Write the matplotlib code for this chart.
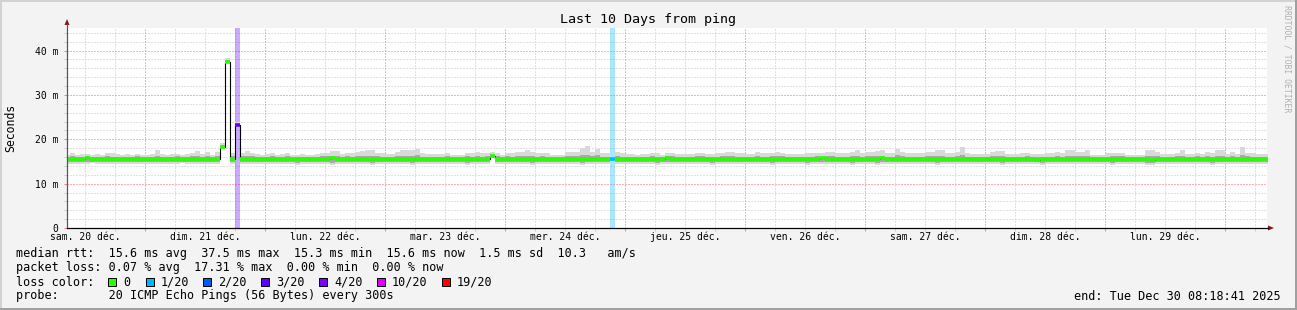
import numpy as np
import matplotlib
matplotlib.use("Agg")
import matplotlib.pyplot as plt
from matplotlib.patches import Rectangle, Polygon
from matplotlib.ticker import FixedLocator, FuncFormatter, NullFormatter

W, H = 1297, 310
plt.rcParams['font.family'] = ['DejaVu Sans Mono', 'DejaVu Sans']

# x = hours since sam. 20 dec 00:00, one rrd row per hour (h = 8 .. 248)
first_hour = 8
view_start, view_end = 8.31, 248.31

# median rtt (ms)
median = [
    15.6, 15.6, 15.5, 15.6, 15.7, 15.6, 15.6, 15.5, 15.5, 15.6, 15.6, 15.6, 15.5, 15.6, 15.6, 15.6,
    15.6, 15.6, 15.5, 15.6, 15.6, 15.5, 15.6, 15.6, 15.6, 15.6, 15.5, 15.6, 15.6, 15.6, 15.6, 18.3, 37.5, 15.5, 23.2, 15.6, 15.6, 15.6, 15.6, 15.5,
    15.6, 15.6, 15.6, 15.5, 15.6, 15.6, 15.6, 15.6, 15.6, 15.5, 15.6, 15.6, 15.6, 15.7, 15.6, 15.6, 15.6, 15.6, 15.5, 15.6, 15.6, 15.6, 15.6, 15.6,
    15.6, 15.6, 15.6, 15.5, 15.6, 15.6, 15.6, 15.6, 15.6, 15.6, 15.6, 15.5, 15.6, 15.6, 15.6, 15.6, 15.6, 15.6, 15.6, 15.6, 15.6, 16.3, 15.6, 15.6,
    15.6, 15.6, 15.6, 15.6, 15.5, 15.6, 15.6, 15.6, 15.6, 15.6, 15.5, 15.6, 15.6, 15.6, 15.6, 15.6, 15.6, 15.6, 15.6, 15.6, 15.6, 15.6, 15.6, 15.6,
    15.6, 15.6, 15.6, 15.5, 15.6, 15.6, 15.6, 15.6, 15.7, 15.6, 15.6, 15.6, 15.5, 15.6, 15.6, 15.6, 15.6, 15.6, 15.6, 15.5, 15.6, 15.6, 15.6, 15.6,
    15.6, 15.6, 15.5, 15.6, 15.6, 15.6, 15.6, 15.6, 15.6, 15.5, 15.6, 15.6, 15.6, 15.6, 15.6, 15.7, 15.6, 15.6, 15.6, 15.6, 15.5, 15.6, 15.6, 15.6,
    15.6, 15.6, 15.6, 15.7, 15.6, 15.6, 15.6, 15.5, 15.6, 15.6, 15.6, 15.6, 15.6, 15.6, 15.6, 15.5, 15.6, 15.6, 15.6, 15.6, 15.6, 15.6, 15.5, 15.6,
    15.6, 15.6, 15.6, 15.6, 15.5, 15.6, 15.6, 15.6, 15.6, 15.6, 15.3, 15.6, 15.6, 15.6, 15.6, 15.6, 15.6, 15.5, 15.6, 15.6, 15.6, 15.6, 15.6, 15.6,
    15.6, 15.6, 15.5, 15.6, 15.6, 15.6, 15.6, 15.6, 15.5, 15.4, 15.6, 15.6, 15.6, 15.6, 15.6, 15.6, 15.6, 15.5, 15.6, 15.6, 15.6, 15.5, 15.6, 15.6,
    15.6, 15.6, 15.6, 15.6, 15.6, 15.6, 15.6, 15.6, 15.6,
]

# smoke: slowest ping per hour
smoke_top = [
    16.5, 16.9, 16.4, 16.7, 16.6, 16.4, 16.7, 16.5, 16.9, 16.8, 16.6, 16.4, 16.6, 16.5, 16.7, 16.4,
    16.5, 16.6, 17.6, 16.6, 16.4, 16.7, 16.7, 16.5, 16.6, 16.9, 17.4, 16.6, 17.1, 16.4, 17.1, 19.2, 38.3, 17.0, 24.0, 17.0, 17.4, 16.9, 16.7, 16.5,
    16.6, 16.8, 16.5, 16.6, 16.9, 16.5, 16.4, 16.6, 16.5, 16.4, 16.6, 17.0, 17.0, 17.4, 17.4, 16.7, 16.9, 16.8, 17.2, 17.3, 17.6, 17.5, 17.0, 16.9,
    16.6, 16.6, 17.2, 17.5, 17.5, 17.5, 17.8, 16.8, 16.6, 16.6, 16.6, 16.6, 16.8, 16.4, 16.4, 16.4, 16.8, 16.8, 17.2, 16.8, 16.9, 17.1, 17.0, 16.4,
    16.8, 16.8, 17.2, 17.2, 17.5, 17.2, 16.8, 16.9, 16.9, 16.4, 16.4, 16.4, 17.2, 17.2, 17.2, 18.0, 18.5, 17.2, 17.9, 16.8, 16.8, 15.9, 17.2, 16.8,
    16.6, 16.6, 16.4, 16.6, 16.6, 16.8, 16.8, 16.4, 17.0, 17.0, 16.6, 16.6, 16.6, 16.6, 17.0, 17.0, 16.6, 16.6, 16.8, 16.8, 17.2, 17.2, 16.8, 16.8,
    16.6, 16.6, 17.2, 16.8, 16.8, 16.8, 17.2, 17.0, 16.6, 16.6, 16.6, 16.6, 16.8, 16.8, 16.8, 16.8, 17.2, 17.2, 16.8, 16.8, 16.8, 17.2, 17.5, 16.8,
    17.2, 17.2, 17.3, 17.5, 16.8, 16.8, 17.8, 17.2, 16.8, 16.8, 16.8, 16.8, 17.2, 17.2, 17.5, 17.5, 16.8, 16.8, 17.2, 18.3, 16.8, 16.6, 16.6, 16.6,
    16.6, 17.2, 17.3, 17.3, 16.6, 16.6, 16.6, 16.8, 16.8, 16.6, 16.6, 16.6, 16.8, 16.8, 17.2, 16.8, 17.5, 17.5, 17.2, 17.2, 17.5, 16.4, 16.4, 16.4,
    16.8, 16.8, 17.0, 17.0, 16.4, 16.4, 16.4, 16.4, 17.5, 17.5, 17.2, 16.6, 16.6, 16.6, 16.8, 17.5, 16.6, 16.6, 17.0, 16.6, 17.2, 16.8, 17.5, 17.5,
    16.6, 17.2, 16.6, 18.3, 16.8, 16.8, 16.6, 16.6, 16.6,
]

# smoke: fastest ping per hour
smoke_bottom = [
    14.5, 14.4, 14.5, 14.5, 14.4, 14.6, 14.5, 14.4, 14.5, 14.5, 14.4, 14.5, 14.5, 14.4, 14.5, 14.5,
    14.5, 14.5, 14.4, 14.5, 14.5, 14.4, 14.5, 14.6, 14.5, 14.4, 14.5, 14.5, 14.4, 14.5, 14.5, 18.0, 37.1, 14.5, 22.8, 14.5, 14.4, 14.5, 14.5, 14.4,
    14.5, 14.4, 14.5, 14.5, 14.5, 14.4, 14.3, 14.5, 14.4, 14.5, 14.5, 14.4, 14.5, 14.3, 14.5, 14.5, 14.4, 14.5, 14.5, 14.5, 14.4, 14.3, 14.5, 14.5,
    14.5, 14.4, 14.5, 14.5, 14.4, 14.3, 14.5, 14.5, 14.5, 14.4, 14.5, 14.5, 14.5, 14.4, 14.5, 14.5, 14.3, 14.5, 14.4, 14.5, 14.5, 15.9, 14.5, 14.4,
    14.5, 14.5, 14.4, 14.5, 14.5, 14.3, 14.5, 14.4, 14.5, 14.5, 14.4, 14.5, 14.5, 14.5, 14.4, 14.3, 14.5, 14.5, 14.4, 14.5, 14.5, 15.3, 14.5, 14.4,
    14.5, 14.4, 14.5, 14.5, 14.4, 14.5, 14.3, 14.5, 14.5, 14.5, 14.4, 14.5, 14.5, 14.4, 14.5, 14.5, 14.5, 14.3, 14.5, 14.4, 14.5, 14.5, 14.5, 14.4,
    14.5, 14.5, 14.4, 14.5, 14.5, 14.3, 14.5, 14.4, 14.5, 14.5, 14.5, 14.4, 14.3, 14.5, 14.5, 14.4, 14.5, 14.5, 14.5, 14.4, 14.5, 14.3, 14.5, 14.5,
    14.4, 14.5, 14.3, 14.5, 14.5, 14.5, 14.4, 14.5, 14.5, 14.4, 14.5, 14.5, 14.5, 14.4, 14.3, 14.5, 14.5, 14.4, 14.5, 14.5, 14.5, 14.4, 14.5, 14.5,
    14.5, 14.4, 14.5, 14.3, 14.5, 14.5, 14.5, 14.4, 14.5, 14.5, 14.4, 14.3, 14.5, 14.5, 14.5, 14.4, 14.5, 14.5, 14.4, 14.5, 14.5, 14.5, 14.4, 14.5,
    14.5, 14.3, 14.5, 14.4, 14.5, 14.5, 14.5, 14.4, 14.1, 14.1, 14.5, 14.4, 14.5, 14.5, 14.5, 14.4, 14.5, 14.5, 14.4, 14.5, 14.5, 14.1, 14.5, 14.4,
    14.5, 14.4, 14.5, 14.5, 14.4, 14.5, 14.5, 14.4, 14.5,
]

# inner smoke band (upper / lower quartile pings)
smoke_upper = [
    16.1, 16.2, 16.1, 16.1, 16.2, 16.0, 16.1, 16.1, 16.2, 16.1, 16.1, 16.0, 16.1, 16.1, 16.2, 16.1,
    16.1, 16.1, 16.3, 16.1, 16.0, 16.1, 16.2, 16.1, 16.1, 16.2, 16.2, 16.1, 16.2, 16.0, 16.2, 18.6, 37.8, 16.2, 23.5, 16.2, 16.3, 16.2, 16.1, 16.1,
    16.1, 16.2, 16.1, 16.1, 16.2, 16.1, 16.0, 16.1, 16.1, 16.0, 16.1, 16.2, 16.2, 16.3, 16.3, 16.1, 16.2, 16.1, 16.2, 16.3, 16.3, 16.3, 16.2, 16.1,
    16.1, 16.1, 16.2, 16.3, 16.3, 16.3, 16.4, 16.1, 16.1, 16.1, 16.1, 16.1, 16.2, 16.0, 16.0, 16.0, 16.2, 16.1, 16.2, 16.1, 16.2, 16.6, 16.2, 16.0,
    16.2, 16.1, 16.2, 16.2, 16.3, 16.2, 16.1, 16.2, 16.1, 16.0, 16.0, 16.0, 16.2, 16.2, 16.2, 16.4, 16.5, 16.2, 16.4, 16.1, 16.1, 15.8, 16.2, 16.1,
    16.1, 16.1, 16.0, 16.1, 16.1, 16.2, 16.1, 16.0, 16.2, 16.2, 16.1, 16.1, 16.1, 16.1, 16.2, 16.2, 16.1, 16.1, 16.1, 16.2, 16.2, 16.2, 16.1, 16.1,
    16.1, 16.1, 16.2, 16.1, 16.1, 16.2, 16.2, 16.2, 16.1, 16.1, 16.1, 16.0, 16.1, 16.1, 16.2, 16.1, 16.2, 16.2, 16.1, 16.1, 16.1, 16.2, 16.3, 16.1,
    16.2, 16.2, 16.3, 16.3, 16.1, 16.1, 16.4, 16.2, 16.1, 16.1, 16.1, 16.1, 16.2, 16.2, 16.3, 16.3, 16.1, 16.1, 16.2, 16.5, 16.1, 16.1, 16.0, 16.1,
    16.1, 16.2, 16.2, 16.2, 16.1, 16.1, 16.1, 16.1, 16.2, 16.1, 16.1, 16.0, 16.1, 16.1, 16.2, 16.1, 16.3, 16.3, 16.2, 16.2, 16.3, 16.0, 16.0, 16.0,
    16.1, 16.2, 16.2, 16.2, 16.0, 16.0, 16.0, 16.0, 16.3, 16.3, 16.2, 16.1, 16.1, 16.1, 16.2, 16.3, 16.1, 16.1, 16.2, 16.1, 16.2, 16.1, 16.3, 16.3,
    16.1, 16.2, 16.1, 16.5, 16.2, 16.1, 16.1, 16.1, 16.1,
]

smoke_lower = [
    14.8, 14.8, 14.9, 14.8, 14.8, 14.9, 14.8, 14.8, 14.8, 14.9, 14.8, 14.8, 14.9, 14.8, 14.8, 14.8,
    14.8, 14.9, 14.8, 14.8, 14.9, 14.8, 14.8, 14.8, 14.9, 14.8, 14.8, 14.9, 14.8, 14.8, 14.8, 18.1, 37.3, 14.9, 23.0, 14.8, 14.8, 14.9, 14.8, 14.8,
    14.9, 14.8, 14.8, 14.8, 14.9, 14.8, 14.7, 14.8, 14.8, 14.9, 14.8, 14.8, 14.8, 14.7, 14.8, 14.9, 14.8, 14.8, 14.8, 14.9, 14.8, 14.7, 14.8, 14.8,
    14.8, 14.8, 14.9, 14.8, 14.8, 14.7, 14.8, 14.8, 14.9, 14.8, 14.8, 14.8, 14.9, 14.8, 14.8, 14.8, 14.7, 14.8, 14.8, 14.9, 14.8, 16.1, 14.8, 14.8,
    14.8, 14.9, 14.8, 14.8, 14.8, 14.7, 14.8, 14.8, 14.9, 14.8, 14.8, 14.8, 14.8, 14.9, 14.8, 14.7, 14.8, 14.8, 14.8, 14.9, 14.8, 15.4, 14.8, 14.8,
    14.8, 14.8, 14.9, 14.8, 14.8, 14.8, 14.7, 14.8, 14.8, 14.9, 14.8, 14.8, 14.8, 14.8, 14.9, 14.8, 14.8, 14.7, 14.8, 14.8, 14.8, 14.9, 14.8, 14.8,
    14.8, 14.9, 14.8, 14.8, 14.8, 14.7, 14.8, 14.8, 14.8, 14.9, 14.8, 14.8, 14.7, 14.8, 14.8, 14.8, 14.9, 14.8, 14.8, 14.8, 14.8, 14.7, 14.8, 14.8,
    14.8, 14.8, 14.7, 14.8, 14.8, 14.9, 14.8, 14.8, 14.8, 14.8, 14.9, 14.8, 14.8, 14.8, 14.7, 14.8, 14.8, 14.8, 14.9, 14.8, 14.8, 14.8, 14.8, 14.9,
    14.8, 14.8, 14.8, 14.7, 14.8, 14.8, 14.9, 14.8, 14.8, 14.8, 14.8, 14.7, 14.8, 14.8, 14.9, 14.8, 14.8, 14.8, 14.8, 14.8, 14.9, 14.8, 14.8, 14.8,
    14.8, 14.7, 14.8, 14.8, 14.8, 14.8, 14.9, 14.8, 14.6, 14.6, 14.8, 14.8, 14.8, 14.8, 14.9, 14.8, 14.8, 14.8, 14.8, 14.8, 14.8, 14.6, 14.8, 14.8,
    14.8, 14.8, 14.9, 14.8, 14.8, 14.8, 14.8, 14.8, 14.8,
]

# hours with packet loss, and lost pings out of 20
loss_hours = [42, 117]
loss_pings = [3.46, 1.0]

day_labels = ["sam. 20 déc.", "dim. 21 déc.", "lun. 22 déc.", "mar. 23 déc.", "mer. 24 déc.",
              "jeu. 25 déc.", "ven. 26 déc.", "sam. 27 déc.", "dim. 28 déc.", "lun. 29 déc."]
y_ticks = [0, 10, 20, 30, 40]
y_tick_labels = ["0", "10 m", "20 m", "30 m", "40 m"]

loss_steps = [0, 1, 2, 3, 4, 10, 19]
loss_names = ["0", "1/20", "2/20", "3/20", "4/20", "10/20", "19/20"]
loss_colors = ["#26ff00", "#00b8ff", "#0059ff", "#5e00ff", "#7e00ff", "#dd00ff", "#ff0000"]

n = len(median)
assert n == len(smoke_top) == len(smoke_bottom) == len(smoke_upper) == len(smoke_lower) == 241


def loss_color(lost):
    c = loss_colors[0]
    for s, col in zip(loss_steps, loss_colors):
        if lost >= s:
            c = col
    return c


def px(x, y):
    return x / W, 1 - y / H


hours = first_hour + np.arange(n)
xe = np.append(hours, hours[-1] + 1)


def stepped(v):
    v = np.asarray(v, dtype=float)
    return np.append(v, v[-1])


fig = plt.figure(figsize=(W / 100, H / 100), dpi=100, facecolor="#f3f3f3")
ax = fig.add_axes([67 / W, (H - 228) / H, 1200 / W, 200 / H])
ax.set_facecolor("white")
ax.set_xlim(view_start, view_end)
ax.set_ylim(0, 45.1)

# tick positions: days at midnight (red), every 6 h (grey); 10 ms (red), 2 ms (grey)
x_major = [h for h in range(24, 252, 24)]
x_minor = [h for h in range(12, 252, 6) if h % 24]
y_minor = [v for v in range(2, 46, 2) if v % 10]

# dotted grid, drawn by hand
grid_minor = dict(color="#c4c4c4", lw=0.72, ls=(0, (1, 2)), zorder=0.5)
grid_major = dict(color="#ff6464", lw=0.72, ls=(0, (1, 2)), zorder=0.6)
for h in x_minor:
    ax.axvline(h, **grid_minor)
for v in y_minor:
    ax.axhline(v, **grid_minor)
for h in x_major:
    ax.axvline(h, **grid_major)
for v in y_ticks[1:]:
    ax.axhline(v, **grid_major)

# loss background bars
lost_by_hour = dict(zip(loss_hours, loss_pings))
for hh, lp in zip(loss_hours, loss_pings):
    ax.axvspan(hh, hh + 1, color=loss_color(lp), alpha=0.33, lw=0, zorder=1)

# smoke
ax.fill_between(xe, stepped(smoke_bottom), stepped(smoke_top), step="post",
                color="#d9d9d9", lw=0, zorder=2)
ax.fill_between(xe, stepped(smoke_lower), stepped(smoke_upper), step="post",
                color="#a9a9a9", lw=0, zorder=3)

# median: thin black step + coloured by loss
ax.step(xe, stepped(median), where="post", color="black", lw=0.8, zorder=4)
cols = [loss_color(lost_by_hour.get(h, 0)) for h in hours]
ax.hlines(median, hours, hours + 1, colors=cols, lw=2.6, zorder=5)

# ticks
ax.xaxis.set_major_locator(FixedLocator(x_major))
ax.xaxis.set_minor_locator(FixedLocator(x_minor))
ax.xaxis.set_major_formatter(NullFormatter())
ax.xaxis.set_minor_formatter(NullFormatter())
ax.yaxis.set_major_locator(FixedLocator(y_ticks))
ax.yaxis.set_major_formatter(FuncFormatter(lambda v, p: y_tick_labels[y_ticks.index(int(round(v)))]))
ax.yaxis.set_minor_locator(FixedLocator(y_minor))
ax.tick_params(axis="both", which="both", labelsize=7, length=2, width=0.7, direction="out")
ax.tick_params(axis="y", which="both", pad=4)
ax.tick_params(which="major", color="#f08080")
ax.tick_params(which="minor", color="#c8c8c8")

# day labels at noon, baseline-aligned
for d, lab in enumerate(day_labels):
    ax.text(24 * d + 12, (228 - 240) / 200, lab, transform=ax.get_xaxis_transform(),
            fontsize=7, ha="center", va="baseline")

for s in ("top", "right"):
    ax.spines[s].set_visible(False)
ax.spines["left"].set_color("#555555")
ax.spines["left"].set_linewidth(0.8)
ax.spines["bottom"].set_color("black")
ax.spines["bottom"].set_linewidth(0.8)

# axis extensions and arrows
arrow_col = "#8b1515"
fig.add_artist(plt.Line2D([67 / W, 67 / W], [px(0, 228)[1], px(0, 24)[1]], color="#555555", lw=0.8))
fig.add_artist(plt.Line2D([67 / W, 1268 / W], [px(0, 228)[1]] * 2, color="black", lw=0.8))
fig.add_artist(Polygon([px(67, 19), px(64.5, 25), px(69.5, 25)], closed=True,
                       transform=fig.transFigure, color=arrow_col, lw=0))
fig.add_artist(Polygon([px(1274, 228), px(1268, 225.5), px(1268, 230.5)], closed=True,
                       transform=fig.transFigure, color=arrow_col, lw=0))

# titles
fig.text(*px(648, 19), "Last 10 Days from ping", fontsize=9.6, ha="center", va="center")
fig.text(*px(11, 128), "Seconds", fontsize=8.3, rotation=90, ha="center", va="center")
fig.text(*px(1287, 59), "RRDTOOL / TOBI OETIKER", fontsize=5.9, rotation=270,
         color="#b0b0b0", ha="center", va="center")

# legend block
leg_size = 8.5
fig.text(*px(16, 254), "median rtt:  15.6 ms avg  37.5 ms max  15.3 ms min  15.6 ms now  1.5 ms sd  10.3   am/s",
         fontsize=leg_size, ha="left", va="center")
fig.text(*px(16, 268), "packet loss: 0.07 % avg  17.31 % max  0.00 % min  0.00 % now",
         fontsize=leg_size, ha="left", va="center")
fig.text(*px(16, 282), "loss color:", fontsize=leg_size, ha="left", va="center")
sq_x = [108, 146, 203, 261, 319, 377, 442]
for x0, name, col in zip(sq_x, loss_names, loss_colors):
    fig.add_artist(Rectangle(px(x0, 286), 8 / W, 8 / H, transform=fig.transFigure,
                             facecolor=col, edgecolor="black", lw=0.7))
    fig.text(*px(x0 + 15, 282), name, fontsize=leg_size, ha="left", va="center")
fig.text(*px(16, 296), "probe:       20 ICMP Echo Pings (56 Bytes) every 300s",
         fontsize=leg_size, ha="left", va="center")
fig.text(*px(1281, 296), "end: Tue Dec 30 08:18:41 2025", fontsize=leg_size, ha="right", va="center")

# image border
fig.add_artist(Rectangle((0, 1 - 2 / H), 1, 2 / H, transform=fig.transFigure, color="#d2d2d2", lw=0))
fig.add_artist(Rectangle((0, 0), 2 / W, 1, transform=fig.transFigure, color="#d2d2d2", lw=0))
fig.add_artist(Rectangle((0, 0), 1, 2 / H, transform=fig.transFigure, color="#a0a0a0", lw=0))
fig.add_artist(Rectangle((1 - 2 / W, 0), 2 / W, 1, transform=fig.transFigure, color="#a0a0a0", lw=0))

fig.savefig("out.png", dpi=100, facecolor=fig.get_facecolor())
